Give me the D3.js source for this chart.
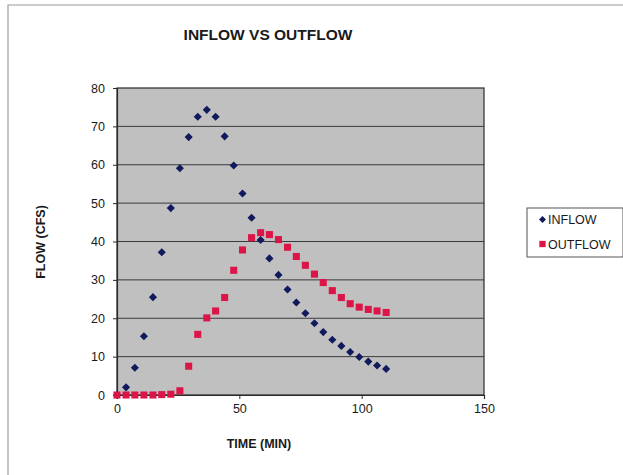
<!DOCTYPE html>
<html>
<head>
<meta charset="utf-8">
<script src="https://cdn.jsdelivr.net/npm/d3@7"></script>
<style>
html,body{margin:0;padding:0;background:#fff;}
svg{display:block;font-family:"Liberation Sans",Arial,sans-serif;}
</style>
</head>
<body>
<svg id="chart" width="623" height="475"></svg>
<script>
const timeMin = [0, 3.7, 7.3, 11, 14.7, 18.3, 22, 25.7, 29.3, 33, 36.7, 40.3, 44, 47.7, 51.3, 55, 58.7, 62.3, 66, 69.7, 73.3, 77, 80.7, 84.3, 88, 91.7, 95.3, 99, 102.7, 106.3, 110];
const inflow = [0, 2.0, 7.1, 15.3, 25.5, 37.2, 48.7, 59.1, 67.2, 72.5, 74.3, 72.5, 67.4, 59.8, 52.5, 46.2, 40.4, 35.6, 31.3, 27.5, 24.1, 21.3, 18.7, 16.4, 14.4, 12.8, 11.2, 9.9, 8.7, 7.7, 6.8];
const outflow = [0, 0, 0, 0, 0, 0.1, 0.2, 1.1, 7.5, 15.8, 20.1, 21.9, 25.4, 32.5, 37.8, 41.0, 42.3, 41.8, 40.5, 38.5, 36.1, 33.8, 31.5, 29.3, 27.2, 25.4, 23.8, 22.9, 22.3, 21.9, 21.5];
const xTicks = [0, 50, 100, 150];
const yTicks = [0, 10, 20, 30, 40, 50, 60, 70, 80];
const seriesNames = ["INFLOW", "OUTFLOW"];
const seriesColors = ["#101a5c", "#dc1548"];

const svg = d3.select("#chart");
const plot = {left: 117, top: 88, right: 484, bottom: 395};

// outer chart frame
svg.append("path")
  .attr("d", "M8,475 L8,5 L623,5")
  .attr("fill", "none").attr("stroke", "#9a9a9a").attr("stroke-width", 1.2);

const x = d3.scaleLinear().domain([0, 150]).range([plot.left, plot.right]);
const y = d3.scaleLinear().domain([0, 80]).range([plot.bottom, plot.top]);

svg.append("rect")
  .attr("x", plot.left).attr("y", plot.top)
  .attr("width", plot.right - plot.left).attr("height", plot.bottom - plot.top)
  .attr("fill", "#c0c0c0");

// gridlines
svg.append("g").selectAll("line").data(yTicks.slice(1, -1)).join("line")
  .attr("x1", plot.left).attr("x2", plot.right)
  .attr("y1", d => y(d)).attr("y2", d => y(d))
  .attr("stroke", "#3a3a3a").attr("stroke-width", 1);

svg.append("rect")
  .attr("x", plot.left).attr("y", plot.top)
  .attr("width", plot.right - plot.left).attr("height", plot.bottom - plot.top)
  .attr("fill", "none").attr("stroke", "#2a2a2a").attr("stroke-width", 1.2);

// axes
const xAxis = svg.append("g").attr("transform", `translate(0,${plot.bottom})`)
  .call(d3.axisBottom(x).tickValues(xTicks).tickSize(4).tickPadding(5).tickFormat(d3.format("d")));
const yAxis = svg.append("g").attr("transform", `translate(${plot.left},0)`)
  .call(d3.axisLeft(y).tickValues(yTicks).tickSize(4).tickPadding(8).tickFormat(d3.format("d")));
[xAxis, yAxis].forEach(a => {
  a.select(".domain").attr("stroke", "#2a2a2a").attr("stroke-width", 1.2);
  a.selectAll(".tick line").attr("stroke", "#2a2a2a");
  a.selectAll("text").attr("font-size", 12.5).attr("fill", "#1a1a1a")
    .attr("font-family", "'Liberation Sans',Arial,sans-serif");
});

// series
const symInflow = d3.symbol().type(d3.symbolSquare).size(33);
const symOutflow = d3.symbol().type(d3.symbolSquare).size(50);

svg.append("g").selectAll("path").data(timeMin.map((t, i) => [t, inflow[i]])).join("path")
  .attr("d", symInflow)
  .attr("transform", d => `translate(${x(d[0])},${y(d[1])}) rotate(45)`)
  .attr("fill", seriesColors[0]);

svg.append("g").selectAll("path").data(timeMin.map((t, i) => [t, outflow[i]])).join("path")
  .attr("d", symOutflow)
  .attr("transform", d => `translate(${x(d[0])},${y(d[1])})`)
  .attr("fill", seriesColors[1]);

// titles
svg.append("text").attr("x", 268).attr("y", 40).attr("text-anchor", "middle")
  .attr("font-size", 15.5).attr("font-weight", "bold").attr("fill", "#1a1a1a")
  .text("INFLOW VS OUTFLOW");
svg.append("text").attr("x", 259).attr("y", 448).attr("text-anchor", "middle")
  .attr("font-size", 12.5).attr("font-weight", "bold").attr("fill", "#1a1a1a")
  .text("TIME (MIN)");
svg.append("text").attr("transform", "translate(45,242) rotate(-90)").attr("text-anchor", "middle")
  .attr("font-size", 12.5).attr("font-weight", "bold").attr("fill", "#1a1a1a")
  .text("FLOW (CFS)");

// legend
const lg = svg.append("g");
lg.append("rect").attr("x", 527).attr("y", 208).attr("width", 96).attr("height", 49)
  .attr("fill", "#fff").attr("stroke", "#555").attr("stroke-width", 1);
const legSyms = [d3.symbol().type(d3.symbolSquare).size(24), d3.symbol().type(d3.symbolSquare).size(40)];
seriesNames.forEach((name, i) => {
  const cy = 219.5 + i * 24.5;
  lg.append("path").attr("d", legSyms[i])
    .attr("transform", `translate(542.5,${cy})` + (i === 0 ? " rotate(45)" : ""))
    .attr("fill", seriesColors[i]);
  lg.append("text").attr("x", 548).attr("y", cy + 4.5).attr("font-size", 12.5)
    .attr("fill", "#1a1a1a").text(name);
});
</script>
</body>
</html>
